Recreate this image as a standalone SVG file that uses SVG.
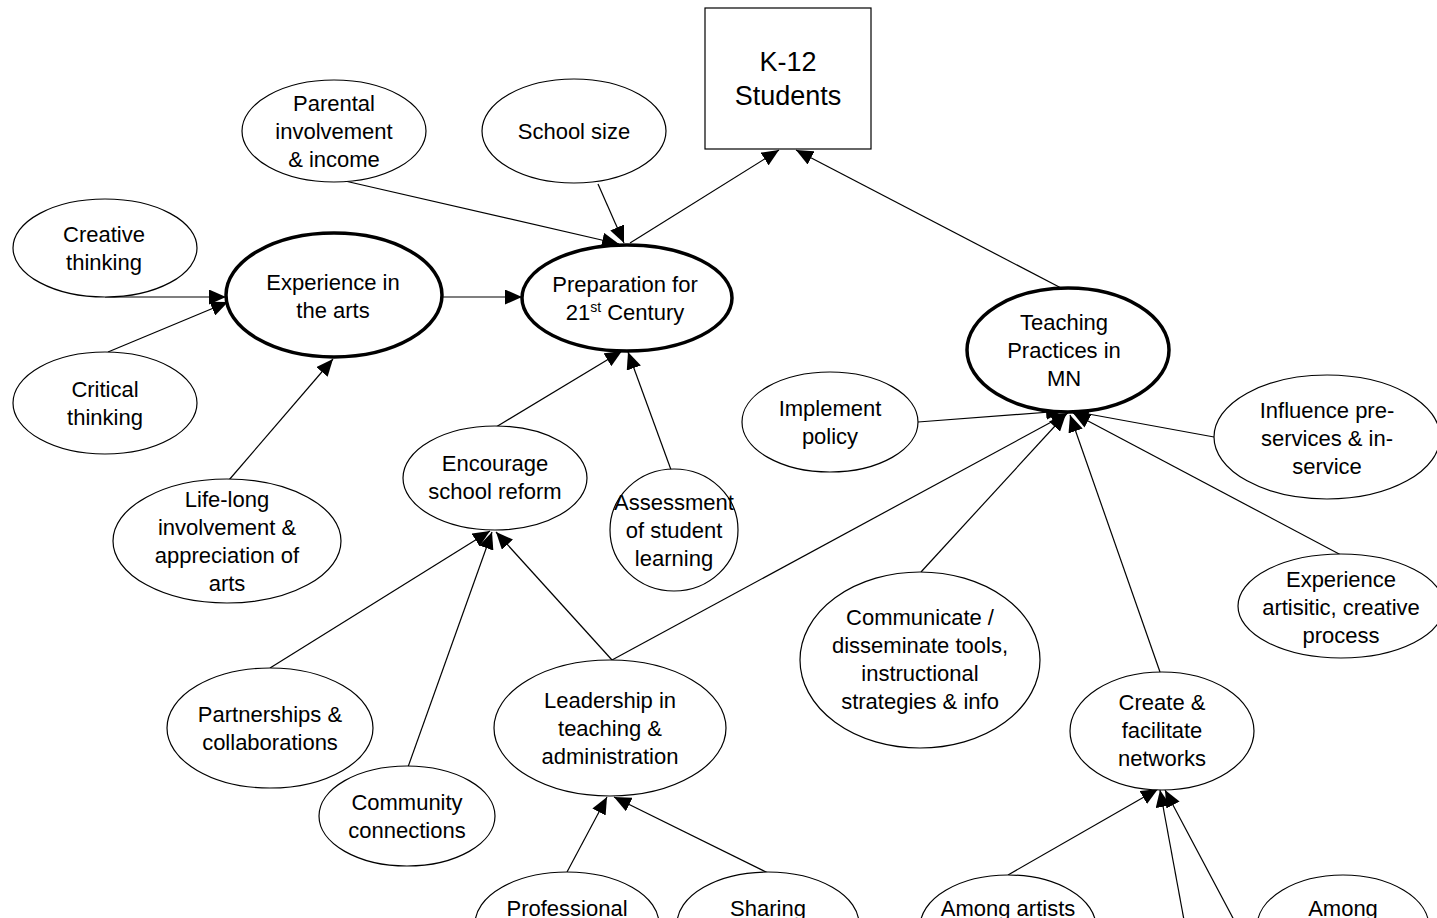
<svg xmlns="http://www.w3.org/2000/svg" width="1437" height="918" viewBox="0 0 1437 918">
<style>
.n{fill:#fff;stroke:#000;stroke-width:1.2}
.b{fill:#fff;stroke:#000;stroke-width:3.5}
text{font-family:"Liberation Sans",Arial,sans-serif;font-size:22px;text-anchor:middle;fill:#000}
.c line{stroke:#000;stroke-width:1.2;marker-end:url(#ah)}
</style>
<defs>
<marker id="ah" markerUnits="userSpaceOnUse" markerWidth="17" markerHeight="15" refX="17" refY="7.5" orient="auto">
<path d="M0,0 L17,7.5 L0,15 z" fill="#000"/>
</marker>
</defs>
<rect width="1437" height="918" fill="#fff"/>
<g class="c" id="connectors">
<line x1="345" y1="181" x2="619" y2="244"/>
<line x1="598" y1="184" x2="624" y2="243"/>
<line x1="630" y1="243" x2="779" y2="150"/>
<line x1="1063" y1="289" x2="796" y2="150"/>
<line x1="105" y1="297" x2="226" y2="297"/>
<line x1="108" y1="352" x2="228" y2="302"/>
<line x1="229" y1="480" x2="333" y2="359"/>
<line x1="442" y1="297" x2="522" y2="297"/>
<line x1="496" y1="427" x2="622" y2="351"/>
<line x1="674" y1="478" x2="628" y2="352"/>
<line x1="270" y1="668" x2="490" y2="531"/>
<line x1="408" y1="767" x2="492" y2="532"/>
<line x1="612" y1="660" x2="496" y2="532"/>
<line x1="612" y1="660" x2="1068" y2="413"/>
<line x1="918" y1="422" x2="1063" y2="411"/>
<line x1="1214" y1="437" x2="1072" y2="411"/>
<line x1="1341" y1="555" x2="1073" y2="413"/>
<line x1="921" y1="572" x2="1066" y2="414"/>
<line x1="1160" y1="672" x2="1070" y2="415"/>
<line x1="567" y1="872" x2="607" y2="797"/>
<line x1="768" y1="873" x2="614" y2="797"/>
<line x1="1008" y1="875" x2="1158" y2="789"/>
<line x1="1184" y1="920" x2="1160" y2="790"/>
<line x1="1234" y1="920" x2="1165" y2="790"/>
</g>
<g id="k12"><rect x="705" y="8" width="166" height="141" class="n"/>
<text x="788" y="71" style="font-size:27px">K-12</text><text x="788" y="105" style="font-size:27px">Students</text></g>
<g id="parental"><ellipse cx="334" cy="131" rx="92" ry="51" class="n"/>
<text x="334" y="111">Parental</text><text x="334" y="139">involvement</text><text x="334" y="167">&amp; income</text></g>
<g id="schoolsize"><ellipse cx="574" cy="131" rx="92" ry="52" class="n"/>
<text x="574" y="139">School size</text></g>
<g id="creative"><ellipse cx="105" cy="248" rx="92" ry="49" class="n"/>
<text x="104" y="242">Creative</text><text x="104" y="270">thinking</text></g>
<g id="experience"><ellipse cx="334" cy="295" rx="108" ry="62" class="b"/>
<text x="333" y="290">Experience in</text><text x="333" y="318">the arts</text></g>
<g id="preparation"><ellipse cx="627" cy="298" rx="105" ry="53" class="b"/>
<text x="625" y="292">Preparation for</text><text x="625" y="320">21<tspan style="font-size:14px" dy="-8">st</tspan><tspan dy="8"> Century</tspan></text></g>
<g id="critical"><ellipse cx="105" cy="403" rx="92" ry="51" class="n"/>
<text x="105" y="397">Critical</text><text x="105" y="425">thinking</text></g>
<g id="teaching"><ellipse cx="1068" cy="350" rx="101" ry="62" class="b"/>
<text x="1064" y="330">Teaching</text><text x="1064" y="358">Practices in</text><text x="1064" y="386">MN</text></g>
<g id="implement"><ellipse cx="830" cy="422" rx="88" ry="50" class="n"/>
<text x="830" y="416">Implement</text><text x="830" y="444">policy</text></g>
<g id="influence"><ellipse cx="1327" cy="437" rx="113" ry="62" class="n"/>
<text x="1327" y="418">Influence pre-</text><text x="1327" y="446">services &amp; in-</text><text x="1327" y="474">service</text></g>
<g id="encourage"><ellipse cx="495" cy="478" rx="92" ry="52" class="n"/>
<text x="495" y="471">Encourage</text><text x="495" y="499">school reform</text></g>
<g id="assessment"><ellipse cx="674" cy="530" rx="64" ry="61" class="n"/>
<text x="674" y="510">Assessment</text><text x="674" y="538">of student</text><text x="674" y="566">learning</text></g>
<g id="lifelong"><ellipse cx="227" cy="541" rx="114" ry="62" class="n"/>
<text x="227" y="507">Life-long</text><text x="227" y="535">involvement &amp;</text><text x="227" y="563">appreciation of</text><text x="227" y="591">arts</text></g>
<g id="artistic"><ellipse cx="1341" cy="606" rx="103" ry="52" class="n"/>
<text x="1341" y="587">Experience</text><text x="1341" y="615">artisitic, creative</text><text x="1341" y="643">process</text></g>
<g id="communicate"><ellipse cx="920" cy="660" rx="120" ry="88" class="n"/>
<text x="920" y="625">Communicate /</text><text x="920" y="653">disseminate tools,</text><text x="920" y="681">instructional</text><text x="920" y="709">strategies &amp; info</text></g>
<g id="create"><ellipse cx="1162" cy="731" rx="92" ry="59" class="n"/>
<text x="1162" y="710">Create &amp;</text><text x="1162" y="738">facilitate</text><text x="1162" y="766">networks</text></g>
<g id="leadership"><ellipse cx="610" cy="728" rx="116" ry="68" class="n"/>
<text x="610" y="708">Leadership in</text><text x="610" y="736">teaching &amp;</text><text x="610" y="764">administration</text></g>
<g id="partnerships"><ellipse cx="270" cy="728" rx="103" ry="60" class="n"/>
<text x="270" y="722">Partnerships &amp;</text><text x="270" y="750">collaborations</text></g>
<g id="community"><ellipse cx="407" cy="816" rx="88" ry="50" class="n"/>
<text x="407" y="810">Community</text><text x="407" y="838">connections</text></g>
<g id="professional"><ellipse cx="567" cy="924" rx="92" ry="52" class="n"/>
<text x="567" y="916">Professional</text></g>
<g id="sharing"><ellipse cx="768" cy="924" rx="91" ry="52" class="n"/>
<text x="768" y="916">Sharing</text></g>
<g id="amongartists"><ellipse cx="1008" cy="927" rx="88" ry="52" class="n"/>
<text x="1008" y="916">Among artists</text></g>
<g id="among"><ellipse cx="1343" cy="927" rx="86" ry="52" class="n"/>
<text x="1343" y="916">Among</text></g>
</svg>
